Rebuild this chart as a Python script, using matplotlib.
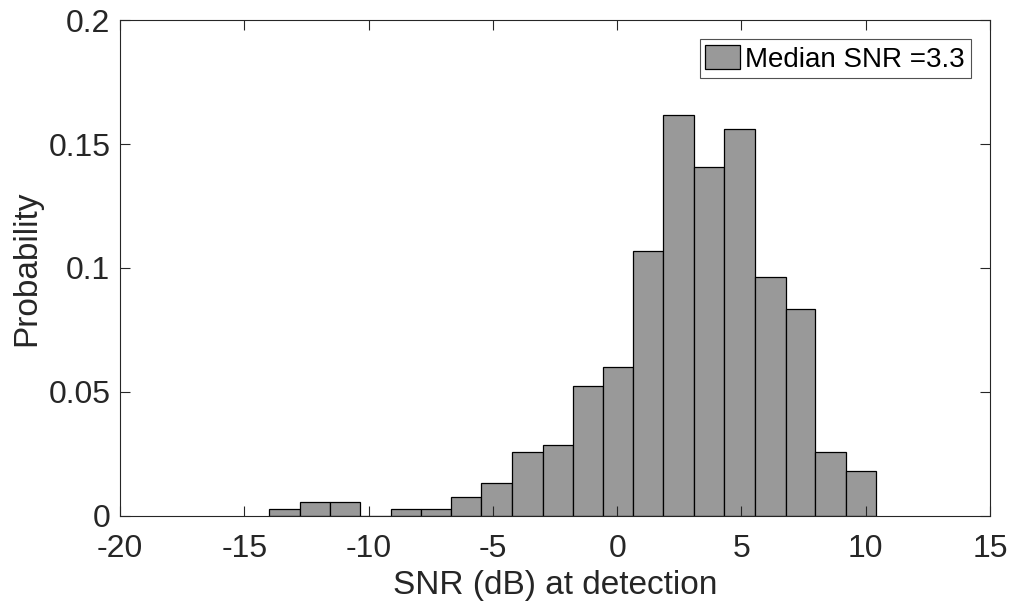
import numpy as np
import matplotlib
matplotlib.use("Agg")
import matplotlib.pyplot as plt
from matplotlib.ticker import FuncFormatter

# bin edges (dB) and probability per bin
bin_edges = [-13.99, -12.77, -11.55, -10.34, -9.11, -7.88, -6.67, -5.46, -4.23,
             -3.00, -1.79, -0.58, 0.65, 1.86, 3.09, 4.31, 5.55, 6.78, 7.97,
             9.19, 10.43]
probs = [0.0028, 0.0055, 0.0055, 0.0, 0.0028, 0.0028, 0.0077, 0.0131, 0.0260,
         0.0286, 0.0523, 0.0599, 0.1067, 0.1615, 0.1406, 0.1562, 0.0965,
         0.0835, 0.0260, 0.0183]
median_snr = 3.3

x_ticks = [-20, -15, -10, -5, 0, 5, 10, 15]
y_ticks = [0, 0.05, 0.1, 0.15, 0.2]

plt.rcParams["font.family"] = ["Liberation Sans", "DejaVu Sans"]
plt.rcParams["axes.unicode_minus"] = False

fig = plt.figure(figsize=(10.12, 6.12), dpi=100)
ax = fig.add_axes([0.1186, 0.1569, 0.8597, 0.8104])

edges = np.array(bin_edges)
ax.bar(edges[:-1], probs, width=np.diff(edges), align="edge",
       color="#999999", edgecolor="black", linewidth=0.9,
       label="Median SNR =%g" % median_snr)

ax.set_xlim(-20, 15)
ax.set_ylim(0, 0.2)
ax.set_xticks(x_ticks)
ax.set_yticks(y_ticks)
ax.yaxis.set_major_formatter(FuncFormatter(lambda v, p: "%g" % v))

ax.tick_params(direction="in", length=7, width=0.8, top=True, right=True,
               labelsize=23, colors="#262626")
ax.tick_params(axis="x", pad=13)
ax.tick_params(axis="y", pad=7)
for s in ax.spines.values():
    s.set_color("#262626")
    s.set_linewidth(0.8)

ax.set_xlabel("SNR (dB) at detection", fontsize=24, color="#262626", labelpad=4)
ax.set_ylabel("Probability", fontsize=24, color="#262626", labelpad=4)

leg = ax.legend(loc="upper right", fontsize=20, frameon=True, fancybox=False,
                borderaxespad=0.7, handlelength=1.25, handleheight=0.95,
                handletextpad=0.2, borderpad=0.2)
leg.get_frame().set_edgecolor("#262626")
leg.get_frame().set_linewidth(0.8)

fig.savefig("out.png", dpi=100)
